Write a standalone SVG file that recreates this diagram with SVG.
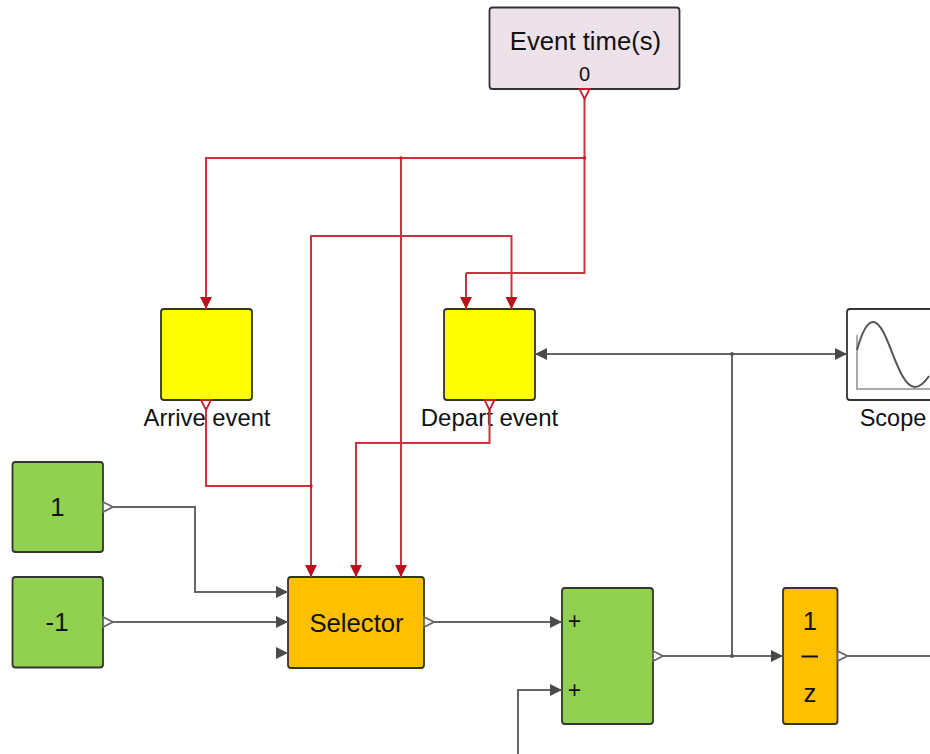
<svg xmlns="http://www.w3.org/2000/svg" width="930" height="754" viewBox="0 0 930 754">
<style>
text{font-family:"Liberation Sans",Arial,sans-serif;fill:#111;text-anchor:middle}
.b{stroke:#333;stroke-width:1.8}
.green{fill:#92d050}.yellow{fill:#ffff00}.orange{fill:#ffc000}.pink{fill:#ede2ea}
.w{stroke:#666;stroke-width:2;fill:none}
.r{stroke:#c9343f;stroke-width:2;fill:none}
.ga{marker-end:url(#gin)}.go{marker-start:url(#gout)}
.ra{marker-end:url(#rin)}.ro{marker-start:url(#rout)}
</style>
<defs>
<marker id="gin" markerUnits="userSpaceOnUse" markerWidth="14" markerHeight="14" viewBox="0 0 14 14" refX="13" refY="7" orient="auto"><path d="M1 1L13 7L1 13Z" fill="#4a4a4a"/></marker>
<marker id="rin" markerUnits="userSpaceOnUse" markerWidth="14" markerHeight="14" viewBox="0 0 14 14" refX="13" refY="7" orient="auto"><path d="M1 1L13 7L1 13Z" fill="#b8111c"/></marker>
<marker id="gout" markerUnits="userSpaceOnUse" markerWidth="14" markerHeight="14" viewBox="0 0 14 14" refX="1" refY="7" orient="auto"><path d="M1 2L11 7L1 12Z" fill="#fff" stroke="#666" stroke-width="1.800"/></marker>
<marker id="rout" markerUnits="userSpaceOnUse" markerWidth="14" markerHeight="14" viewBox="0 0 14 14" refX="1" refY="7" orient="auto"><path d="M1 2L11 7L1 12Z" fill="#fff" stroke="#c4202c" stroke-width="1.800"/></marker>
</defs>
<rect width="930" height="754" fill="#fff"/>
<g id="node-event-time"><rect class="b pink" x="489.500" y="7.500" width="190" height="81.500" rx="3"/><text x="585.500" y="50" font-size="25.700">Event time(s)</text><text x="584.500" y="81" font-size="20">0</text></g>
<g id="node-arrive"><rect class="b yellow" x="161" y="309" width="91" height="91" rx="3"/><text x="207" y="426" font-size="23.800">Arrive event</text></g>
<g id="node-depart"><rect class="b yellow" x="444" y="309" width="91" height="91" rx="3"/><text x="489.500" y="426" font-size="24">Depart event</text></g>
<g id="node-scope"><rect x="847" y="309" width="91" height="91" rx="3" fill="#fff" class="b"/><path d="M857 335V389H930" fill="none" stroke="#aaa" stroke-width="2"/><path d="M857 350C862 332 867 322 873 322C888 322 897 387 915 387C921 387 925 382 929 376" fill="none" stroke="#555" stroke-width="2"/><text x="893" y="426" font-size="23.500">Scope</text></g>
<g id="node-const1"><rect class="b green" x="12.500" y="462" width="90.500" height="90" rx="3"/><text x="57.500" y="516" font-size="25.700">1</text></g>
<g id="node-const-1"><rect class="b green" x="12.500" y="577" width="90.500" height="90.500" rx="3"/><text x="57" y="631" font-size="25.700">-1</text></g>
<g id="node-selector"><rect class="b orange" x="288" y="577" width="136" height="91" rx="3"/><text x="356.500" y="632" font-size="25.700">Selector</text></g>
<g id="node-sum"><rect class="b green" x="562" y="588" width="91" height="136" rx="3"/><text x="574.500" y="629" font-size="23">+</text><text x="574.500" y="698" font-size="23">+</text></g>
<g id="node-delay"><rect class="b orange" x="783" y="588" width="54.500" height="136" rx="3"/><text x="810" y="630" font-size="25.700">1</text><line x1="801.500" y1="656.500" x2="818" y2="656.500" stroke="#111" stroke-width="2"/><text x="810" y="702" font-size="25.700">z</text></g>
<g id="connectors">
<path class="r ro" d="M584.500 89V273H466"/>
<path class="r ra" d="M466 273V309"/>
<path class="r ra" d="M584.500 158H206V309"/>
<path class="r ra" d="M401 158V577"/>
<path class="r ro" d="M206 400V486H311"/>
<path class="r ra" d="M311 486V577"/>
<path class="r ra" d="M311 486V236H511.500V309"/>
<path class="r ro ra" d="M489.500 400V443H356V577"/>
<path class="w go ga" d="M103 507H195V592H288"/>
<path class="w go ga" d="M103 622H288"/>
<path class="w ga" d="M276 653H288" style="stroke:none"/>
<path class="w go ga" d="M424 622H562"/>
<path class="w ga" d="M518 754V690H562"/>
<path class="w go ga" d="M653 656H783"/>
<path class="w ga" d="M732 656V354H535"/>
<path class="w ga" d="M732 354H847"/>
<path class="w go" d="M837.500 656H930"/>
<circle cx="401" cy="158" r="1.800" fill="#c4202c"/><circle cx="584.500" cy="158" r="1.800" fill="#c4202c"/><circle cx="311" cy="486" r="1.800" fill="#c4202c"/>
<circle cx="732" cy="354" r="2" fill="#555"/><circle cx="732" cy="656" r="2" fill="#555"/>
</g>
</svg>
